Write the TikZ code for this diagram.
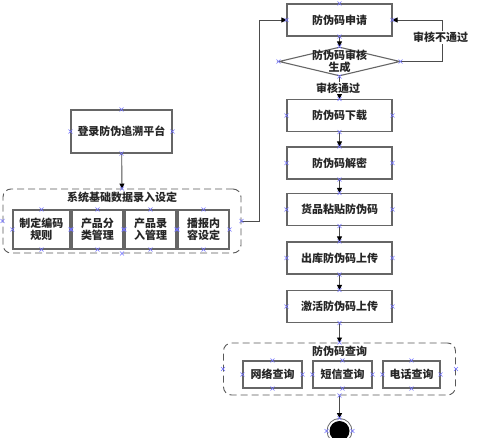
\documentclass[tikz,border=0pt]{standalone}
\usepackage{fontspec}
\newfontfamily\cjk{Noto Sans CJK SC}
\usetikzlibrary{shapes.geometric,shapes.misc,arrows.meta}

\begin{document}
\begin{tikzpicture}[x=1pt,y=-1pt,
    txt/.style={font=\cjk\bfseries\fontsize{11}{12}\selectfont,text=black!85,align=center},
    box/.style={txt,draw=black!60,line width=1.1pt,fill=white,inner sep=0pt,
                minimum width=105pt,minimum height=32pt},
    grp/.style={draw=black!65,line width=0.9pt,dash pattern=on 7pt off 4pt,rounded corners=8pt},
    ln/.style={draw=black!70,line width=0.9pt},
    arr/.style={ln,-{Triangle[length=5pt,width=5pt,color=black]}},
    lbl/.style={txt,fill=white,inner sep=1pt},
    cx/.style={cross out,draw=blue!55,line width=0.5pt,minimum size=3.5pt,inner sep=0pt}
  ]
  \useasboundingbox (0,0) rectangle (480,438);

  % left side: platform and base data
  \node[box,minimum width=101pt,minimum height=43pt] (login) at (121.5,131.5) {登录防伪追溯平台};
  \node[grp,minimum width=238pt,minimum height=64pt] (base) at (122,221) {};
  \node[txt] (basett) at (122,197) {系统基础数据录入设定};
  \node[box,minimum width=57pt,minimum height=39pt] (b1) at (41.5,229.5) {制定编码\\规则};
  \node[box,minimum width=51pt,minimum height=39pt] (b2) at (97.5,229.5) {产品分\\类管理};
  \node[box,minimum width=51pt,minimum height=39pt] (b3) at (150.5,229.5) {产品录\\入管理};
  \node[box,minimum width=51pt,minimum height=39pt] (b4) at (203.5,229.5) {播报内\\容设定};

  % right side: code flow
  \node[box] (req) at (339.5,20) {防伪码申请};
  \node[diamond,draw=black!60,line width=1.1pt,fill=white,inner sep=0pt,
        minimum width=121pt,minimum height=29pt] (chk) at (339.5,61.5) {};
  \node[txt] (chktt) at (chk) {防伪码审核\\生成};
  \node[box] (dl)  at (339.5,115.5) {防伪码下载};
  \node[box] (dec) at (339.5,163)   {防伪码解密};
  \node[box] (stk) at (339.5,209.5) {货品粘贴防伪码};
  \node[box] (out) at (339.5,258)   {出库防伪码上传};
  \node[box] (act) at (339.5,306.5) {激活防伪码上传};

  \node[grp,minimum width=232pt,minimum height=52pt] (qry) at (339.5,369) {};
  \node[txt] (qrytt) at (339.5,351) {防伪码查询};
  \node[box,minimum width=59pt,minimum height=27pt] (net) at (272.5,374.5) {网络查询};
  \node[box,minimum width=59pt,minimum height=27pt] (sms) at (342.5,374.5) {短信查询};
  \node[box,minimum width=57pt,minimum height=27pt] (tel) at (411.5,374.5) {电话查询};

  \node[circle,draw=black!60,line width=0.8pt,minimum size=25pt,inner sep=0pt] (end) at (339.5,431) {};
  \fill[black] (end.center) circle (10pt);

  % connectors
  \draw[arr] (login) -- (base.north);
  \draw[arr] (base.east) -- ++(18,0) |- (req.west);
  \draw[arr] (req) -- (chk.north);
  \draw[arr] (chk.east) -- ++(42,0) |- (req.east);
  \node[lbl] (nopass) at (440.5,37.5) {审核不通过};
  \draw[arr] (chk.south) -- (dl.north);
  \node[lbl] (pass) at (338,88) {审核通过};
  \draw[arr] (dl) -- (dec);
  \draw[arr] (dec) -- (stk);
  \draw[arr] (stk) -- (out);
  \draw[arr] (out) -- (act);
  \draw[arr] (act) -- (qry.north);
  \draw[arr] (qry.south) -- (end.north);

  % connection points
  \foreach \n in {login,base,b1,b2,b3,b4,req,chk,dl,dec,stk,out,act,qry,net,sms,tel}
    \foreach \a in {north,south,east,west}
      \node[cx] at (\n.\a) {};
  \foreach \a in {north,east,west}
    \node[cx] at (end.\a) {};
\end{tikzpicture}
\end{document}
